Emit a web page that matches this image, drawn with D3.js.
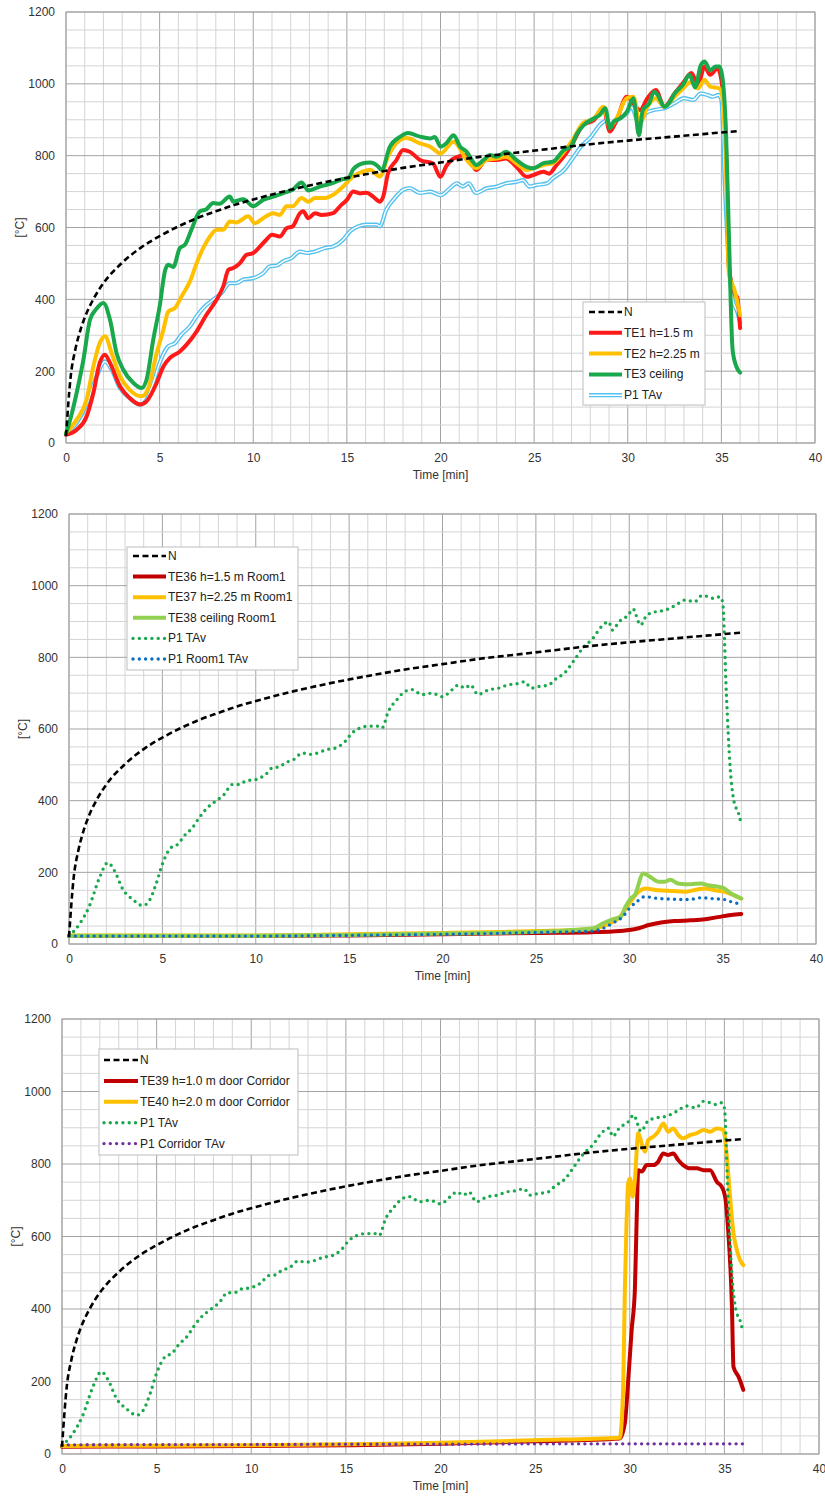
<!DOCTYPE html>
<html><head><meta charset="utf-8">
<script src="https://cdn.jsdelivr.net/npm/d3@7/dist/d3.min.js"></script>
<style>
body{margin:0;background:#fff;}
svg{display:block;font-family:"Liberation Sans",Arial,sans-serif;}
</style></head><body>
<svg id="c" width="825" height="1497"></svg>
<script>
// ---------- DATA ----------
const xTicks = [0,5,10,15,20,25,30,35,40];
const yTicks = [0,200,400,600,800,1000,1200];

// N (standard fire curve)
const curveN = [[0,20],[0.25,185],[0.5,261],[0.75,311],[1,349],[1.5,404],[2,445],[3,502],[4,544],[5,576],[6,603],[7,626],[8,645],[9,663],[10,678],[12,705],[14,728],[16,748],[18,766],[20,781],[22,796],[24,808],[26,820],[28,832],[30,842],[32,851],[34,860],[36,869]];

const te1 = [[0,23],[0.57,37],[1.1,74],[1.46,139],[1.8,223],[2.08,246],[2.35,223],[2.88,158],[3.4,125],[3.95,107],[4.3,116],[4.84,167],[5.2,213],[5.55,237],[6.08,255],[6.44,274],[6.98,311],[7.5,357],[8.04,399],[8.4,436],[8.67,482],[8.93,487],[9.29,501],[9.64,524],[10.0,529],[10.36,547],[10.7,566],[11.0,580],[11.42,575],[11.78,598],[12.1,603],[12.5,640],[12.67,645],[12.94,626],[13.3,640],[13.65,635],[14.27,640],[14.63,659],[15.0,677],[15.34,700],[15.7,695],[16.05,697],[16.4,686],[16.76,672],[16.94,686],[17.2,751],[17.65,788],[18.0,816],[18.36,811],[18.9,788],[19.6,778],[20.0,741],[20.3,770],[20.7,792],[21.4,802],[21.9,760],[22.45,788],[23.0,788],[23.5,792],[24.05,769],[24.6,741],[24.95,746],[25.5,755],[25.8,750],[26.2,774],[26.7,806],[27.05,834],[27.6,885],[28.2,899],[28.7,932],[29.05,867],[29.4,899],[29.95,964],[30.3,946],[30.65,927],[31.05,960],[31.5,983],[31.95,936],[32.5,973],[32.95,1002],[33.4,1030],[33.75,997],[34.1,1048],[34.4,1025],[34.8,1043],[35.0,1011],[35.25,816],[35.4,491],[35.7,417],[35.85,405],[36.0,320]];

const te2 = [[0,28],[0.57,65],[1.1,121],[1.46,213],[1.8,278],[2.08,297],[2.44,250],[2.88,186],[3.4,148],[4.04,130],[4.4,153],[4.84,250],[5.2,315],[5.46,366],[5.82,376],[6.17,408],[6.62,450],[6.98,501],[7.33,543],[7.69,575],[8.04,594],[8.4,594],[8.75,617],[9.1,614],[9.73,631],[10.1,612],[10.53,626],[11.07,640],[11.42,635],[11.78,659],[12.1,659],[12.58,682],[12.94,672],[13.3,682],[13.83,682],[14.27,691],[14.8,714],[15.34,742],[15.87,756],[16.23,761],[16.76,742],[17.2,798],[17.65,835],[18.18,849],[18.9,834],[19.45,825],[20.0,806],[20.7,839],[21.4,788],[21.9,765],[22.45,788],[23.0,792],[23.5,797],[24.05,779],[24.6,760],[24.95,765],[25.5,774],[26.0,779],[26.6,811],[27.05,843],[27.6,890],[28.2,904],[28.7,936],[29.05,881],[29.4,904],[29.95,960],[30.3,964],[30.65,890],[31.05,936],[31.5,960],[31.95,936],[32.5,964],[32.95,987],[33.4,1006],[33.75,987],[34.1,1011],[34.4,992],[34.9,987],[35.05,964],[35.25,769],[35.4,472],[35.7,426],[36.0,356]];

const te3 = [[0,25],[0.3,80],[0.57,140],[0.93,232],[1.28,343],[1.6,372],[2.0,390],[2.35,343],[2.7,250],[3.06,204],[3.6,167],[4.04,153],[4.3,176],[4.66,288],[5.0,380],[5.3,482],[5.46,496],[5.73,490],[6.08,543],[6.35,552],[6.7,594],[7.15,645],[7.5,651],[7.86,668],[8.2,666],[8.75,686],[8.93,672],[9.47,679],[10.0,659],[10.53,677],[11.07,686],[11.6,696],[12.1,705],[12.58,725],[12.94,703],[13.56,714],[14.27,724],[14.8,735],[15.07,737],[15.34,762],[15.87,779],[16.23,781],[16.67,770],[16.85,760],[17.3,825],[17.83,852],[18.27,863],[18.9,853],[19.45,848],[19.7,852],[20.0,825],[20.3,834],[20.7,857],[21.05,825],[21.4,811],[21.67,788],[21.9,774],[22.3,788],[22.65,802],[23.0,797],[23.5,811],[24.05,788],[24.6,769],[24.95,765],[25.5,779],[26.0,783],[26.6,816],[26.95,825],[27.3,862],[27.65,885],[28.2,904],[28.5,913],[28.8,932],[29.05,876],[29.25,895],[29.6,904],[29.95,922],[30.3,960],[30.6,857],[30.8,927],[31.15,946],[31.4,978],[31.6,969],[31.95,936],[32.2,946],[32.5,973],[32.95,997],[33.3,1025],[33.6,990],[33.9,1052],[34.1,1062],[34.4,1038],[34.7,1048],[34.9,1048],[35.05,1020],[35.25,862],[35.4,584],[35.6,259],[35.8,213],[36.0,196]];

const p1TAv = [[0,23],[0.57,56],[1.1,107],[1.64,186],[2.08,227],[2.44,204],[2.88,153],[3.4,125],[3.95,107],[4.3,121],[4.66,167],[5.0,223],[5.46,269],[5.82,278],[6.17,302],[6.62,325],[6.98,353],[7.33,376],[7.86,399],[8.3,417],[8.75,445],[9.1,445],[9.47,455],[10.0,459],[10.53,473],[10.9,492],[11.25,494],[11.6,506],[12.04,515],[12.5,533],[12.85,529],[13.3,533],[13.83,543],[14.27,547],[14.8,566],[15.16,589],[15.6,603],[16.05,608],[16.58,608],[16.76,603],[17.1,649],[17.56,682],[18.0,705],[18.36,710],[18.9,696],[19.45,700],[20.0,690],[20.5,709],[20.87,723],[21.2,714],[21.5,723],[21.9,696],[22.45,709],[23.0,714],[23.5,723],[24.05,727],[24.4,732],[24.75,714],[25.1,718],[25.7,723],[26.0,737],[26.6,760],[27.05,792],[27.5,825],[28.05,853],[28.5,885],[28.9,899],[29.1,876],[29.45,899],[29.95,918],[30.2,935],[30.6,890],[30.95,918],[31.4,927],[31.95,932],[32.5,946],[33.0,960],[33.5,955],[33.9,973],[34.25,969],[34.55,964],[34.85,969],[35.0,955],[35.2,700],[35.4,495],[35.6,400],[35.85,365],[36.0,335]];

const te36 = [[0,22],[5,22],[10,22],[15,24],[20,27],[25,31],[28,33],[29.1,35],[30,39],[30.5,44],[31.05,53],[31.7,60],[32.4,64],[33.3,66],[34.05,69],[34.75,75],[35.45,81],[36,84]];
const te37 = [[0,24],[5,24],[10,24],[15,27],[20,31],[25,36],[28,42],[28.6,50],[29.5,76],[30,113],[30.5,146],[30.84,155],[31.55,150],[32.3,148],[33,146],[33.7,153],[34.05,155],[34.6,150],[35.1,146],[35.45,139],[36,127]];
const te38 = [[0,23],[5,23],[10,23],[15,25],[20,29],[25,34],[28.08,44],[28.6,58],[29.1,69],[29.55,76],[29.8,104],[30.08,127],[30.3,137],[30.75,197],[31.1,188],[31.55,174],[31.9,174],[32.2,179],[32.6,169],[33,167],[33.3,167],[33.85,169],[34.2,164],[34.75,160],[35.1,155],[35.45,141],[36,127]];
const p1Room1 = [[0,22],[5,22],[10,22],[15,24],[20,27],[25,32],[28,36],[28.6,44],[29.1,58],[29.65,76],[30,99],[30.4,118],[30.84,132],[31.55,127],[32.4,125],[33.15,124],[33.85,129],[34.6,126],[35.1,124],[35.45,118],[36,111]];

const te39 = [[0,20],[5,21],[10,22],[15,24],[20,28],[25,35],[29.47,43],[29.74,85],[29.92,204],[30.1,342],[30.27,452],[30.36,636],[30.45,783],[30.63,779],[30.9,797],[31.24,797],[31.5,806],[31.77,829],[32.03,825],[32.3,829],[32.56,811],[32.82,797],[33.2,788],[33.55,788],[33.9,783],[34.25,783],[34.6,751],[34.86,737],[35.04,710],[35.2,618],[35.4,406],[35.48,241],[35.75,213],[36.0,177]];
const te40 = [[0,22],[5,23],[10,24],[15,27],[20,31],[25,38],[29.47,45],[29.65,177],[29.74,452],[29.83,636],[29.92,747],[30.01,760],[30.15,710],[30.27,756],[30.45,885],[30.63,857],[30.8,834],[30.98,866],[31.24,875],[31.5,889],[31.77,912],[32.03,889],[32.3,898],[32.56,880],[32.82,871],[33.2,880],[33.55,885],[33.9,894],[34.25,889],[34.6,898],[34.95,894],[35.13,820],[35.3,710],[35.48,609],[35.66,563],[35.83,535],[36.0,521]];
const p1Corridor = [[0,25],[5,26],[10,26],[15,27],[20,27],[25,28],[30,28],[36,28]];

// ---------- STYLES ----------
const ST = {
  N:{color:"#000", width:2.6, dash:"6,3.5", cap:"butt"},
  red:{color:"#ff1a1a", width:4},
  yellow:{color:"#ffc000", width:4},
  green:{color:"#1aa84c", width:4},
  blueDouble:{color:"#55c1ee", width:4.2, inner:"#fff", innerWidth:1.4},
  dred:{color:"#c00000", width:4},
  lgreen:{color:"#92d050", width:4},
  gdot:{color:"#1aa84c", width:3.4, dash:"0,6.3", cap:"round"},
  bdot:{color:"#0a6fc2", width:3.4, dash:"0,6.3", cap:"round"},
  pdot:{color:"#7030a0", width:3.4, dash:"0,6.3", cap:"round"}
};

const panels = [
  {l:66,r:815,t:12,b:443,
   series:[["N",curveN,ST.N],["TE1 h=1.5 m",te1,ST.red],["TE2 h=2.25 m",te2,ST.yellow],["TE3 ceiling",te3,ST.green],["P1 TAv",p1TAv,ST.blueDouble]],
   drawOrder:[4,1,2,3,0],
   legend:{x:583,y:302,w:122,h:103,lx1:589,lx2:622,tx:624,y0:312,dy:20.8}},
  {l:69,r:816,t:514,b:944,
   series:[["N",curveN,ST.N],["TE36 h=1.5 m Room1",te36,ST.dred],["TE37 h=2.25 m Room1",te37,ST.yellow],["TE38 ceiling Room1",te38,ST.lgreen],["P1 TAv",p1TAv,ST.gdot],["P1 Room1 TAv",p1Room1,ST.bdot]],
   drawOrder:[1,2,3,4,5,0],
   legend:{x:127,y:547,w:171,h:123,lx1:133,lx2:166,tx:168,y0:556,dy:20.6}},
  {l:62,r:819,t:1019,b:1454,
   series:[["N",curveN,ST.N],["TE39 h=1.0 m door Corridor",te39,ST.dred],["TE40 h=2.0 m door Corridor",te40,ST.yellow],["P1 TAv",p1TAv,ST.gdot],["P1 Corridor TAv",p1Corridor,ST.pdot]],
   drawOrder:[1,2,3,4,0],
   legend:{x:99,y:1049,w:199,h:106,lx1:104,lx2:138,tx:140,y0:1060,dy:20.9}}
];

const svg = d3.select("#c");
const FS = 12;

function applyStroke(sel, s){
  sel.attr("fill","none").attr("stroke",s.color).attr("stroke-width",s.width)
     .attr("stroke-linejoin","round").attr("stroke-linecap",s.cap||"round");
  if(s.dash) sel.attr("stroke-dasharray",s.dash);
}

panels.forEach((p,pi)=>{
  const g = svg.append("g");
  const x = d3.scaleLinear().domain([0,40]).range([p.l,p.r]);
  const y = d3.scaleLinear().domain([0,1200]).range([p.b,p.t]);
  // grid
  const minorX = d3.range(0,41,1), minorY = d3.range(0,1201,50);
  g.append("g").selectAll("line").data(minorX).join("line")
    .attr("x1",d=>x(d)).attr("x2",d=>x(d)).attr("y1",p.t).attr("y2",p.b)
    .attr("stroke",d=>d%5===0?"#a3a3a3":"#d4d4d4").attr("stroke-width",1);
  g.append("g").selectAll("line").data(minorY).join("line")
    .attr("y1",d=>y(d)).attr("y2",d=>y(d)).attr("x1",p.l).attr("x2",p.r)
    .attr("stroke",d=>d%200===0?"#a3a3a3":"#d4d4d4").attr("stroke-width",1);
  g.append("rect").attr("x",p.l).attr("y",p.t).attr("width",p.r-p.l).attr("height",p.b-p.t)
    .attr("fill","none").attr("stroke","#a3a3a3");
  // axes
  const ax = g.append("g").attr("transform",`translate(0,${p.b})`)
    .call(d3.axisBottom(x).tickValues(xTicks).tickFormat(d3.format("d")).tickSize(0).tickPadding(10));
  const ay = g.append("g").attr("transform",`translate(${p.l},0)`)
    .call(d3.axisLeft(y).tickValues(yTicks).tickFormat(d3.format("d")).tickSize(0).tickPadding(11));
  [ax,ay].forEach(a=>{a.select(".domain").remove();
    a.selectAll("text").attr("font-size",FS).attr("fill","#333").attr("font-family","Liberation Sans, Arial, sans-serif");});
  g.append("text").attr("x",(p.l+p.r)/2).attr("y",p.b+36).attr("text-anchor","middle")
    .attr("font-size",FS).attr("fill","#333").text("Time [min]");
  g.append("text").attr("transform",`translate(${p.l-42},${(p.t+p.b)/2}) rotate(-90)`)
    .attr("text-anchor","middle").attr("font-size",FS).attr("fill","#333").text("[°C]");
  // lines
  const line = d3.line().x(d=>x(d[0])).y(d=>y(d[1])).curve(d3.curveMonotoneX);
  p.drawOrder.forEach(i=>{
    const [name,data,s] = p.series[i];
    const path = g.append("path").attr("d",line(data));
    applyStroke(path,s);
    if(s.inner){
      g.append("path").attr("d",line(data)).attr("fill","none").attr("stroke",s.inner)
        .attr("stroke-width",s.innerWidth).attr("stroke-linejoin","round");
    }
  });
  // legend
  const L = p.legend;
  const lg = g.append("g");
  lg.append("rect").attr("x",L.x).attr("y",L.y).attr("width",L.w).attr("height",L.h)
    .attr("fill","#fff").attr("stroke","#bdbdbd");
  p.series.forEach(([name,data,s],i)=>{
    const yy = L.y0 + i*L.dy;
    const ln = lg.append("line").attr("x1",L.lx1).attr("x2",L.lx2).attr("y1",yy).attr("y2",yy);
    applyStroke(ln,s);
    if(!s.dash) ln.attr("stroke-linecap","butt");
    if(s.inner){
      lg.append("line").attr("x1",L.lx1).attr("x2",L.lx2).attr("y1",yy).attr("y2",yy)
        .attr("stroke",s.inner).attr("stroke-width",s.innerWidth);
    }
    lg.append("text").attr("x",L.tx).attr("y",yy+4).attr("font-size",FS).attr("fill","#222").text(name);
  });
});
</script>
</body></html>
